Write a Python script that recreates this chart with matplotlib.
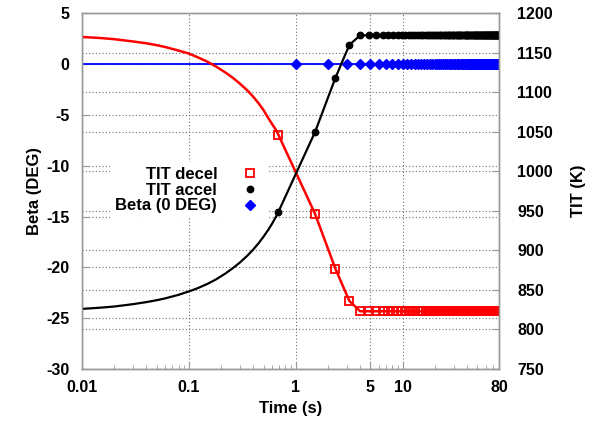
import numpy as np
import matplotlib
matplotlib.use("Agg")
import matplotlib.pyplot as plt
from matplotlib.lines import Line2D
from matplotlib.ticker import FixedLocator, NullFormatter, LogLocator

plt.rcParams['font.family'] = ['Liberation Sans', 'DejaVu Sans']
plt.rcParams['font.weight'] = 'bold'
plt.rcParams['axes.labelweight'] = 'bold'
plt.rcParams['axes.unicode_minus'] = False

# smooth start of the two TIT curves (no markers)
lead_t = [0.01, 0.015, 0.02, 0.03, 0.04, 0.05, 0.06, 0.08, 0.1, 0.12, 0.15, 0.18,
          0.22, 0.26, 0.3, 0.35, 0.4, 0.45, 0.5, 0.55, 0.6, 0.65]
accel_lead = [826, 827.6, 829, 832, 834.6, 837, 839.3, 843.8, 848.1, 852, 857.8, 863.4,
              870.8, 877.9, 884.6, 892.9, 901, 909.2, 917.4, 925.5, 933.6, 942]
decel_lead = [1170, 1168.6, 1167.2, 1164.3, 1162, 1159.6, 1157.3, 1152.8, 1149, 1144.5,
              1138.5, 1132.5, 1125, 1118, 1111, 1102.8, 1094.5, 1086, 1077.5, 1068, 1060, 1053]

# sampled points (with markers)
mark_t = np.arange(0.69, 80.01, 0.83)
n_flat = len(mark_t) - 4
accel_mark = [949, 1050, 1118, 1160] + [1172] * n_flat
decel_mark = [1046, 946, 877, 836] + [823] * n_flat

# Beta
beta_t = [0.01] + list(range(1, 81))
beta = [0] * len(beta_t)

xticks = [0.01, 0.1, 1, 5, 10, 80]
xlabels = ["0.01", "0.1", "1", "5", "10", "80"]

fig = plt.figure(figsize=(6, 4.23), dpi=100)
ax = fig.add_axes([0.1367, 0.1277, 0.695, 0.841])
ax2 = ax.twinx()

grid_kw = dict(color='#707070', linestyle=(0, (1, 2)), linewidth=0.8)
ax.set_xscale('log')
ax.set_xlim(0.01, 80)
ax.set_ylim(-30, 5)
ax2.set_ylim(750, 1200)
ax.set_yticks(range(-30, 6, 5))
ax2.set_yticks(range(750, 1201, 50))
ax.xaxis.set_major_locator(FixedLocator(xticks))
ax.set_xticklabels(xlabels)
ax.xaxis.set_minor_locator(LogLocator(base=10, subs=np.arange(2, 10)))
ax.xaxis.set_minor_formatter(NullFormatter())
ax.grid(True, which='major', axis='both', **grid_kw)
ax2.grid(True, which='major', axis='y', **grid_kw)
ax.set_axisbelow(True)
ax2.set_axisbelow(True)

for a in (ax, ax2):
    for s in a.spines.values():
        s.set_color('#999999')
        s.set_linewidth(1.0)
ax.tick_params(axis='both', which='both', direction='in', color='#999999', labelsize=11.5)
ax.tick_params(axis='x', which='major', length=5, pad=8)
ax.tick_params(axis='x', which='minor', length=3)
ax.tick_params(axis='y', length=5, pad=9)
ax2.tick_params(axis='y', direction='in', length=5, color='#999999', labelsize=11.5, pad=13)

# Beta on left axis
ax.plot(beta_t, beta, color='#0000ff', lw=1.3, marker='D', ms=4.8, markevery=list(range(1, len(beta_t))))

# TIT on right axis
ax2.plot(lead_t + list(mark_t), decel_lead + decel_mark, color='#ff0000', lw=1.8)
ax2.plot(mark_t, decel_mark, ls='none', marker='s', ms=5.3, mfc='none', mec='#ff0000', mew=1.3)
ax2.plot(lead_t + list(mark_t), accel_lead + accel_mark, color='black', lw=1.6)
ax2.plot(mark_t, accel_mark, ls='none', marker='o', ms=4.6, color='black')

ax.set_xlabel("Time (s)", fontsize=12, labelpad=4)
ax.set_ylabel("Beta (DEG)", fontsize=12, labelpad=3)
ax2.set_ylabel("TIT (K)", fontsize=12, rotation=90, labelpad=13)

handles = [
    Line2D([], [], ls='none', marker='s', ms=5.3, mfc='none', mec='#ff0000', mew=1.3),
    Line2D([], [], ls='none', marker='o', ms=4.6, color='black'),
    Line2D([], [], ls='none', marker='D', ms=4.8, color='#0000ff'),
]
leg = ax2.legend(handles, ["TIT decel", "TIT accel", "Beta (0 DEG)"], loc='center',
                 bbox_to_anchor=(0.256, 0.503), markerfirst=False, frameon=True,
                 framealpha=1, edgecolor='none', fancybox=False, fontsize=12,
                 handlelength=1.5, handletextpad=1.2, labelspacing=0.05,
                 borderpad=0.3, borderaxespad=0)

fig.savefig("out.png", dpi=100)
